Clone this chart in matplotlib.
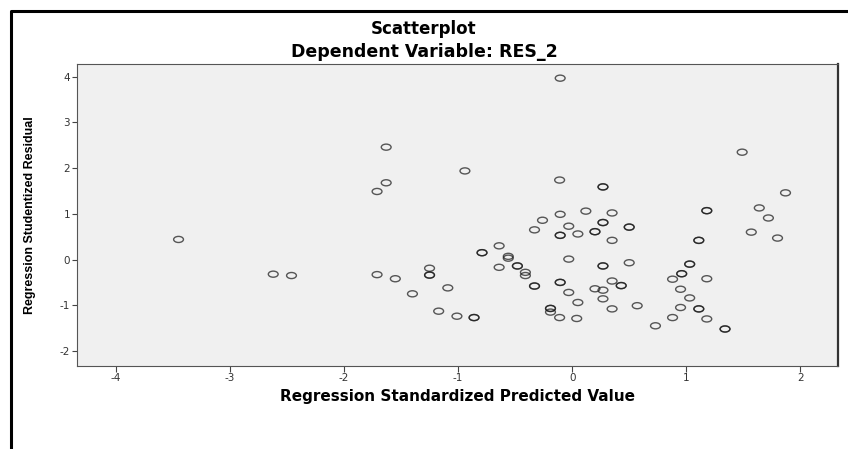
import numpy as np
import matplotlib
matplotlib.use("Agg")
import matplotlib.pyplot as plt
from matplotlib.path import Path
from matplotlib.transforms import Affine2D
from matplotlib.lines import Line2D

plt.rcParams['axes.unicode_minus'] = False  # SPSS prints plain hyphens

# standardized predicted value (x) and studentized residual (y)
# (repeated pairs = overlapping cases, drawn darker in the original)
pred = [-3.45, -2.62, -2.46, -1.71, -1.71, -1.63, -1.63, -0.94, -0.105, -0.11,
        0.27, 0.27, 0.12, -1.55, -1.25, -1.25, -1.25, -1.40, -1.09, -1.17,
        -1.01, -0.86, -0.86, -0.79, -0.79, -0.64, -0.56, -0.56, -0.64, -0.48,
        -0.48, -0.41, -0.41, -0.33, -0.33, -0.33, -0.26, -0.105, 0.35, -0.03,
        -0.105, -0.105, 0.05, 0.27, 0.27, 0.20, 0.20, 0.50, 0.50, 0.35,
        -0.03, 0.27, 0.27, 0.50, -0.105, -0.105, -0.03, 0.35, 0.43, 0.43,
        0.20, 0.27, 0.27, 0.05, 0.35, 0.57, -0.19, -0.19, -0.19, -0.11,
        0.04, 1.49, 1.87, 1.64, 1.72, 1.18, 1.18, 1.57, 1.80, 1.11,
        1.11, 1.03, 1.03, 0.96, 0.96, 0.88, 1.18, 0.95, 1.03, 0.95,
        1.11, 1.11, 0.88, 1.18, 0.73, 1.34, 1.34]
resid = [0.44, -0.32, -0.35, 1.49, -0.33, 2.46, 1.68, 1.94, 3.97, 1.74,
         1.59, 1.59, 1.06, -0.42, -0.19, -0.34, -0.34, -0.75, -0.62, -1.13,
         -1.24, -1.27, -1.27, 0.15, 0.15, 0.30, 0.07, 0.03, -0.17, -0.14,
         -0.14, -0.28, -0.35, -0.58, -0.58, 0.65, 0.86, 0.99, 1.02, 0.73,
         0.53, 0.53, 0.56, 0.81, 0.81, 0.61, 0.61, 0.71, 0.71, 0.42,
         0.01, -0.14, -0.14, -0.07, -0.50, -0.50, -0.72, -0.47, -0.57, -0.57,
         -0.64, -0.67, -0.86, -0.94, -1.08, -1.01, -1.07, -1.07, -1.15, -1.27,
         -1.29, 2.35, 1.46, 1.13, 0.91, 1.07, 1.07, 0.60, 0.47, 0.42,
         0.42, -0.10, -0.10, -0.31, -0.31, -0.43, -0.42, -0.65, -0.84, -1.05,
         -1.08, -1.08, -1.27, -1.30, -1.45, -1.52, -1.52]

x_ticks = [-4, -3, -2, -1, 0, 1, 2]
y_ticks = [-2, -1, 0, 1, 2, 3, 4]

fig = plt.figure(figsize=(8.48, 4.49), dpi=100)
fig.patch.set_facecolor("white")
ax = fig.add_axes([77 / 848, 1 - 366 / 449, 761 / 848, 302 / 449])
ax.set_facecolor("#f0f0f0")

# the original is stretched sideways, so the circles look like flat ellipses
ring = Affine2D().scale(1.0, 0.62).transform_path(Path.unit_circle())
ax.scatter(pred, resid, marker=ring, s=50, facecolors="none",
           edgecolors="#1a1a1a", linewidths=1.0, alpha=0.72, zorder=3)

ax.set_xlim(-4.34, 2.33)
ax.set_ylim(-2.33, 4.28)
ax.set_xticks(x_ticks)
ax.set_yticks(y_ticks)
ax.tick_params(axis="x", length=4.5, width=0.8, color="#444444", pad=0.5,
               labelsize=7.5, labelcolor="#333333")
ax.tick_params(axis="y", length=3.5, width=0.8, color="#444444", pad=1.5,
               labelsize=7.5, labelcolor="#333333")

for side in ["left", "bottom", "top"]:
    ax.spines[side].set_color("#555555")
    ax.spines[side].set_linewidth(0.8)
ax.spines["right"].set_color("#333333")
ax.spines["right"].set_linewidth(1.6)

ax.set_xlabel("Regression Standardized Predicted Value", fontsize=11,
              fontweight="bold", family="DejaVu Sans", va="center")
ax.xaxis.set_label_coords(0.5, -(396 - 366) / 302)
ax.set_ylabel("Regression Studentized Residual", fontsize=9, fontweight="bold",
              family=["Liberation Sans Narrow", "Liberation Sans", "DejaVu Sans"],
              va="center", ha="center")
ax.yaxis.set_label_coords(-(77 - 30) / 761, 0.5)

fig.text(0.5, 1 - 29 / 449, "Scatterplot", ha="center", va="center",
         fontsize=12, fontweight="bold", family="DejaVu Sans")
fig.text(0.5, 1 - 52 / 449, "Dependent Variable: RES_2", ha="center", va="center",
         fontsize=12.5, fontweight="bold", family="DejaVu Sans")

# black output frame (left and top edges visible)
fig.add_artist(Line2D([11 / 848, 11 / 848, 1.0], [0.0, 1 - 11 / 449, 1 - 11 / 449],
                      transform=fig.transFigure, color="black", lw=2.2))

fig.savefig("out.png", dpi=100)
